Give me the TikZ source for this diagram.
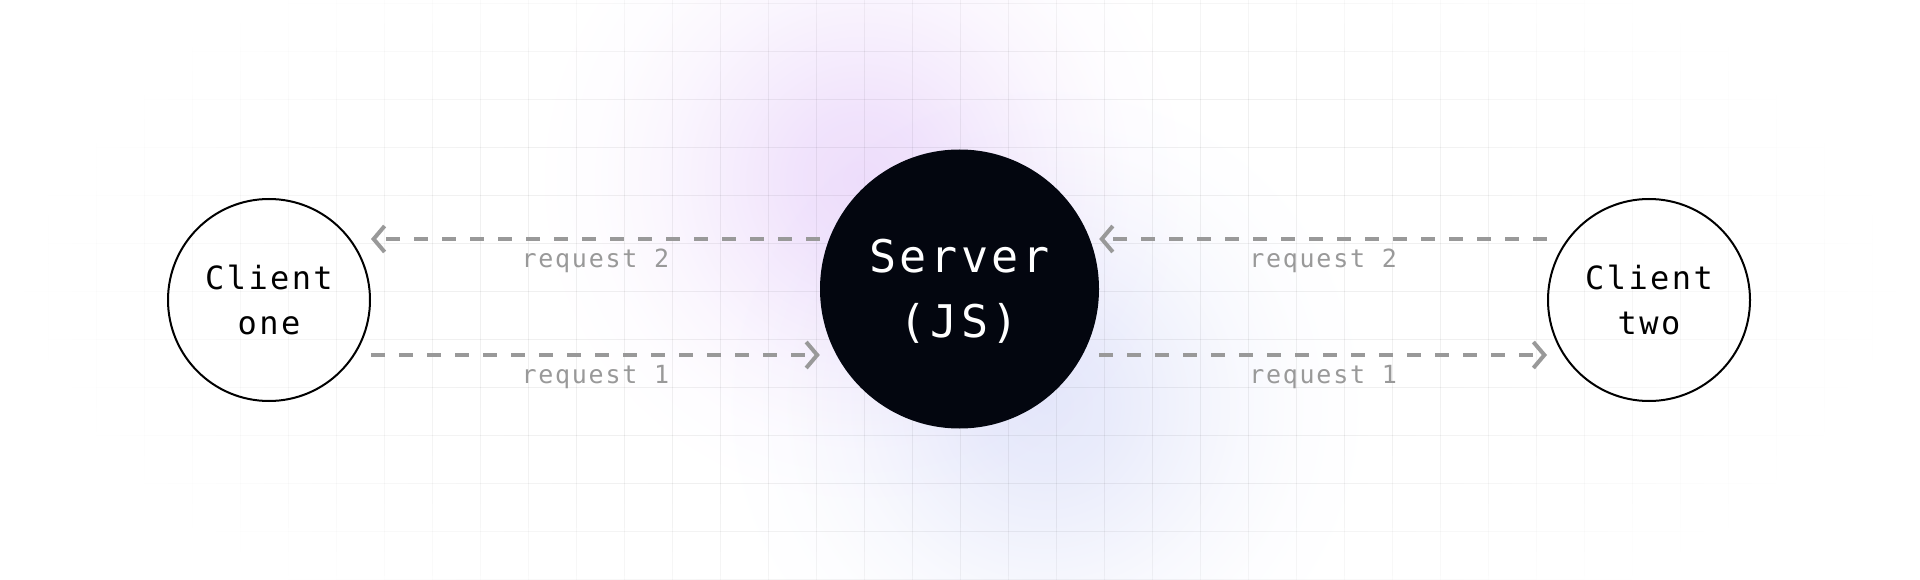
\documentclass[tikz,border=0pt]{standalone}
\usepackage{fontspec}
\usetikzlibrary{arrows.meta}
\newfontfamily\clientfam[LetterSpace=7.5]{DejaVu Sans Mono}
\newfontfamily\serverfam[LetterSpace=8]{DejaVu Sans Mono}
\newfontfamily\lblfam[LetterSpace=7]{DejaVu Sans Mono}
\definecolor{srvfill}{RGB}{3,6,15}
\definecolor{reqgray}{RGB}{153,153,153}
\definecolor{gridcol}{RGB}{240,240,240}
\definecolor{glowpurple}{RGB}{238,222,251}
\definecolor{glowblue}{RGB}{229,232,250}
\pgfdeclareradialshading{purpleglow}{\pgfpointorigin}{color(0bp)=(glowpurple); color(5bp)=(glowpurple!85!white); color(10bp)=(glowpurple!55!white); color(15bp)=(glowpurple!27!white); color(20bp)=(glowpurple!8!white); color(25bp)=(white); color(50bp)=(white)}
\pgfdeclareradialshading{blueglow}{\pgfpointorigin}{color(0bp)=(glowblue); color(5bp)=(glowblue!85!white); color(10bp)=(glowblue!55!white); color(15bp)=(glowblue!27!white); color(20bp)=(glowblue!8!white); color(25bp)=(white); color(50bp)=(white)}
\tikzset{
  client/.style={circle, draw=black, line width=2pt, minimum size=202pt, inner sep=0pt,
    align=center, font=\clientfam\fontsize{32}{45.7}\selectfont, text=black},
  server/.style={circle, fill=srvfill, minimum size=279pt, inner sep=0pt},
  servertext/.style={align=center, font=\serverfam\fontsize{45}{65}\selectfont, text=white, inner sep=0pt},
  req/.style={draw=reqgray, line width=4pt, dash pattern=on 14pt off 14pt,
    -{Straight Barb[length=11pt,width=26pt]}},
  lbl/.style={font=\lblfam\fontsize{25}{30}\selectfont, text=reqgray, anchor=base,
    yshift=-28pt, inner sep=0pt},
  gridline/.style={line width=1pt}
}
\begin{document}
\begin{tikzpicture}[x=1pt,y=-1pt]
\useasboundingbox[fill=white] (0,0) rectangle (1920,580);
\clip (0,0) rectangle (1920,580);
% soft glows
\begin{scope}[blend mode=multiply]
\shade[shading=purpleglow] (862,180) circle (330);
\shade[shading=blueglow] (1045,405) circle (330);
\end{scope}
% faded grid
\begin{scope}[blend mode=multiply]
\foreach \i in {0,...,39}{
  \foreach \j in {0,...,24}{
    \pgfmathsetmacro\xx{\i*48+0.7}
    \pgfmathsetmacro\ya{\j*24}
    \pgfmathsetmacro\ym{\j*24+12}
    \pgfmathsetmacro\f{max(0,min(100,100*(1-sqrt(((\xx-960)/940)^2+((\ym-290)/420)^2))/0.45))}
    \draw[gridline, draw=gridcol!\f!white] (\xx,\ya) -- (\xx,\ya+24);
  }
}
\foreach \j in {0,...,12}{
  \foreach \i in {0,...,79}{
    \pgfmathsetmacro\yy{\j*48+3.3}
    \pgfmathsetmacro\xa{\i*24}
    \pgfmathsetmacro\xm{\i*24+12}
    \pgfmathsetmacro\f{max(0,min(100,100*(1-sqrt(((\xm-960)/940)^2+((\yy-290)/420)^2))/0.45))}
    \draw[gridline, draw=gridcol!\f!white] (\xa,\yy) -- (\xa+24,\yy);
  }
}
\end{scope}
% nodes
\node[client] (c1) at (269,300) {Client\\one};
\node[server] (srv) at (959.5,289) {};
\node[servertext] (srvtxt) at ([yshift=-2.5pt]srv.center) {Server\\(JS)};
\node[client] (c2) at (1649,300) {Client\\two};
\coordinate (up) at (0,239);
\coordinate (lo) at (0,355);
% connectors
\draw[req] (srv.west |- up) -- (c1.east |- up) node[lbl, midway] {request 2};
\draw[req] (c1.east |- lo) -- (srv.west |- lo) node[lbl, midway] {request 1};
\draw[req] (c2.west |- up) -- (srv.east |- up) node[lbl, midway] {request 2};
\draw[req] (srv.east |- lo) -- (c2.west |- lo) node[lbl, midway] {request 1};
\end{tikzpicture}
\end{document}
